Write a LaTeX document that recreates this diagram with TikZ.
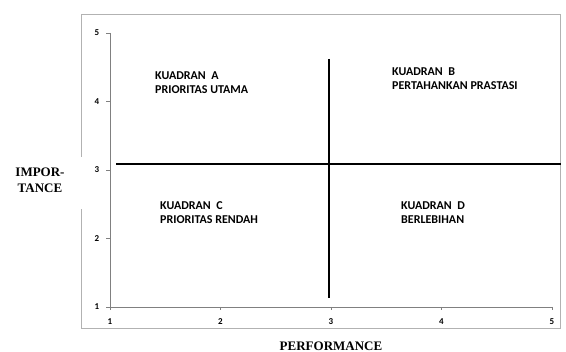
\documentclass[tikz,border=0pt]{standalone}
\usepackage{fontspec}
\setmainfont{Liberation Serif}
\setsansfont{Carlito}
\begin{document}
\begin{tikzpicture}[x=1pt,y=-1pt]
    \tikzstyle{quad} = [anchor=base west,align=left,inner sep=0pt,font=\sffamily\bfseries\fontsize{12}{14}\selectfont]
    \tikzstyle{axislabel} = [align=center,inner sep=0pt,font=\rmfamily\bfseries\fontsize{13}{16}\selectfont]
    \tikzstyle{ticklabel} = [inner sep=0pt,font=\sffamily\bfseries\fontsize{9}{10}\selectfont]
    \tikzstyle{divider} = [line width=2.8pt,black]
    \useasboundingbox (0,0) rectangle (566,352);
    % outer frame, open where the left label sits
    \draw [gray!60,line width=1pt] (81,157) -- (81,15) -- (560,15) -- (560,329) -- (81,329) -- (81,209);
    % axes
    \coordinate (origin) at (110,307);
    \coordinate (xend) at (552,307);
    \coordinate (yend) at (110,33);
    \draw [gray] (yend) -- (origin) -- (xend);
    \foreach \v in {1,...,5} {
        \draw [gray] (110,{307-68.5*(\v-1)}) -- ++(-4,0);
        \node (ytick\v)[ticklabel] at (97,{307-68.5*(\v-1)}) {\v};
        \draw [gray] ({110+110.5*(\v-1)},307) -- ++(0,3);
        \node (xtick\v)[ticklabel] at ({110+110.5*(\v-1)},322) {\v};
    }
    % dividing lines
    \coordinate (hleft) at (116,164);
    \coordinate (hright) at (561,164);
    \coordinate (vtop) at (329,59);
    \coordinate (vbottom) at (329,298);
    \draw [divider] (hleft) -- (hright);
    \draw [divider] (vtop) -- (vbottom);
    % quadrants
    \node (kuadranA)[quad] at (155,94) {KUADRAN~~A\\PRIORITAS UTAMA};
    \node (kuadranB)[quad] at (392,90) {KUADRAN~~B\\PERTAHANKAN PRASTASI};
    \node (kuadranC)[quad] at (160,224) {KUADRAN~~C\\PRIORITAS RENDAH};
    \node (kuadranD)[quad] at (401,224) {KUADRAN~~D\\BERLEBIHAN};
    % axis titles
    \node (importance)[axislabel] at (40,180) {IMPOR-\\TANCE};
    \node (performance)[axislabel] at (331,346) {PERFORMANCE};
\end{tikzpicture}
\end{document}
